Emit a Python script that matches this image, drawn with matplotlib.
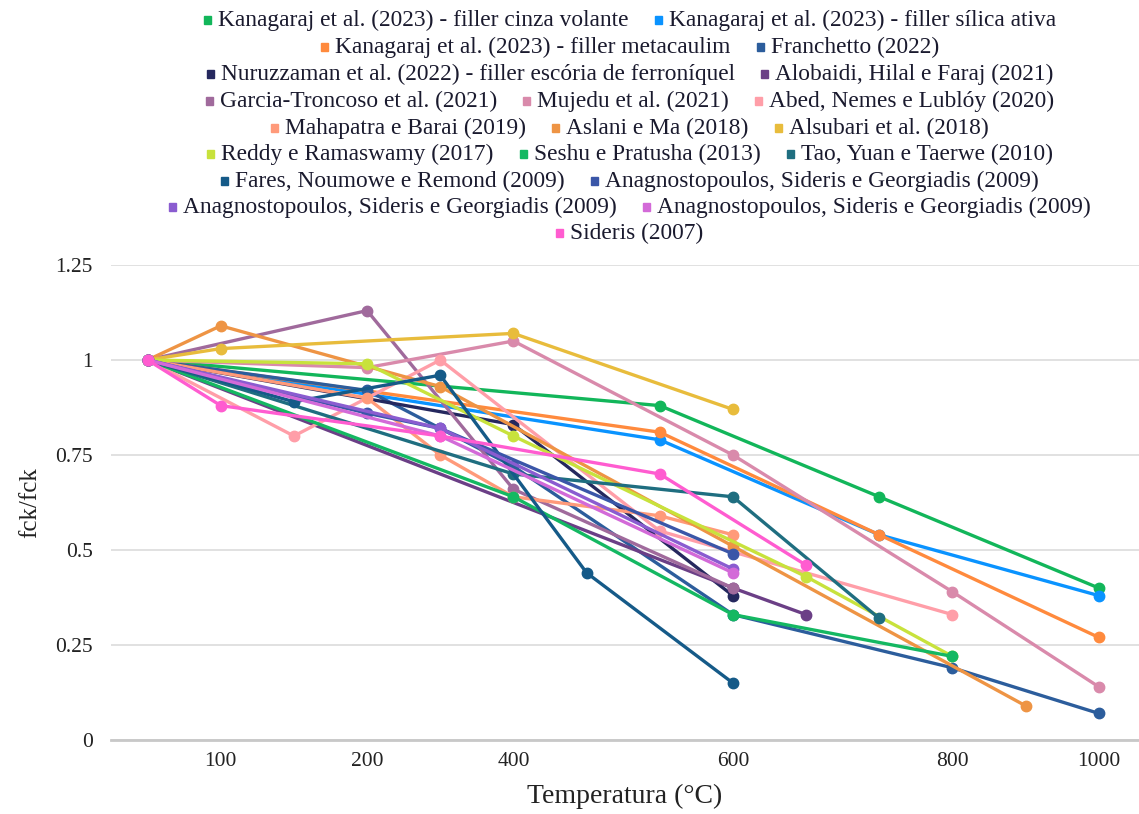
import matplotlib
matplotlib.use('Agg')
import matplotlib.pyplot as plt
from matplotlib.patches import Rectangle

plt.rcParams['font.family'] = ['Liberation Serif', 'DejaVu Serif']

# categorias de temperatura (eixo de categorias, como no Excel)
temps = [20, 100, 150, 200, 300, 400, 450, 500, 600, 650, 700, 800, 900, 1000]
tick_temps = [100, 200, 400, 600, 800, 1000]

names = [
    'Kanagaraj et al. (2023) - filler cinza volante',
    'Kanagaraj et al. (2023) - filler sílica ativa',
    'Kanagaraj et al. (2023) - filler metacaulim',
    'Franchetto (2022)',
    'Nuruzzaman et al. (2022) - filler escória de ferroníquel',
    'Alobaidi, Hilal e Faraj (2021)',
    'Garcia-Troncoso et al. (2021)',
    'Mujedu et al. (2021)',
    'Abed, Nemes e Lublóy (2020)',
    'Mahapatra e Barai (2019)',
    'Aslani e Ma (2018)',
    'Alsubari et al. (2018)',
    'Reddy e Ramaswamy (2017)',
    'Seshu e Pratusha (2013)',
    'Tao, Yuan e Taerwe (2010)',
    'Fares, Noumowe e Remond (2009)',
    'Anagnostopoulos, Sideris e Georgiadis (2009)',
    'Anagnostopoulos, Sideris e Georgiadis (2009)',
    'Anagnostopoulos, Sideris e Georgiadis (2009)',
    'Sideris (2007)',
]
colors = ['#12b65a', '#0a93ff', '#ff8a3d', '#2c5d9c', '#25285e', '#6b3f86',
          '#a06a9c', '#d98aab', '#ff9ea8', '#ff9a7a', '#ee9444', '#e8bc3c',
          '#c8e23c', '#14b862', '#1f6e80', '#155a88', '#3a56a8', '#8a5cd0',
          '#d36ad8', '#ff5cd0']

# temperaturas e fck/fck de cada serie
kan_cinza_t = [20, 500, 700, 1000]
kan_cinza_v = [1.0, 0.88, 0.64, 0.40]
kan_silica_t = [20, 500, 700, 1000]
kan_silica_v = [1.0, 0.79, 0.54, 0.38]
kan_meta_t = [20, 500, 700, 1000]
kan_meta_v = [1.0, 0.81, 0.54, 0.27]
franchetto_t = [20, 200, 400, 600, 800, 1000]
franchetto_v = [1.0, 0.92, 0.72, 0.33, 0.19, 0.07]
nuruzzaman_t = [20, 400, 600]
nuruzzaman_v = [1.0, 0.83, 0.38]
alobaidi_t = [20, 600, 650]
alobaidi_v = [1.0, 0.40, 0.33]
garcia_t = [20, 200, 400, 600]
garcia_v = [1.0, 1.13, 0.66, 0.40]
mujedu_t = [20, 200, 400, 600, 800, 1000]
mujedu_v = [1.0, 0.98, 1.05, 0.75, 0.39, 0.14]
abed_t = [20, 150, 300, 500, 800]
abed_v = [1.0, 0.80, 1.0, 0.55, 0.33]
mahapatra_t = [20, 200, 300, 400, 500, 600]
mahapatra_v = [1.0, 0.90, 0.75, 0.64, 0.59, 0.54]
aslani_t = [20, 100, 300, 600, 900]
aslani_v = [1.0, 1.09, 0.93, 0.51, 0.09]
alsubari_t = [20, 100, 400, 600]
alsubari_v = [1.0, 1.03, 1.07, 0.87]
reddy_t = [20, 200, 400, 650, 800]
reddy_v = [1.0, 0.99, 0.80, 0.43, 0.22]
seshu_t = [20, 400, 600, 800]
seshu_v = [1.0, 0.64, 0.33, 0.22]
tao_t = [20, 400, 600, 700]
tao_v = [1.0, 0.70, 0.64, 0.32]
fares_t = [20, 150, 300, 450, 600]
fares_v = [1.0, 0.89, 0.96, 0.44, 0.15]
anag1_t = [20, 200, 300, 600]
anag1_v = [1.0, 0.86, 0.82, 0.49]
anag2_t = [20, 300, 600]
anag2_v = [1.0, 0.82, 0.45]
anag3_t = [20, 300, 600]
anag3_v = [1.0, 0.80, 0.44]
sideris_t = [20, 100, 300, 500, 650]
sideris_v = [1.0, 0.88, 0.80, 0.70, 0.46]

series = [
    (kan_cinza_t, kan_cinza_v), (kan_silica_t, kan_silica_v), (kan_meta_t, kan_meta_v),
    (franchetto_t, franchetto_v), (nuruzzaman_t, nuruzzaman_v), (alobaidi_t, alobaidi_v),
    (garcia_t, garcia_v), (mujedu_t, mujedu_v), (abed_t, abed_v),
    (mahapatra_t, mahapatra_v), (aslani_t, aslani_v), (alsubari_t, alsubari_v),
    (reddy_t, reddy_v), (seshu_t, seshu_v), (tao_t, tao_v), (fares_t, fares_v),
    (anag1_t, anag1_v), (anag2_t, anag2_v), (anag3_t, anag3_v), (sideris_t, sideris_v),
]

# linhas da legenda (indices das series), como no original
legend_rows = [[0, 1], [2, 3], [4, 5], [6, 7, 8], [9, 10, 11], [12, 13, 14],
               [15, 16], [17, 18], [19]]

W, H = 1139, 814
fig = plt.figure(figsize=(W / 100, H / 100), dpi=100)
ax = fig.add_axes([111 / W, 74 / H, (W - 111) / W, (740 - 265) / H])

for (t, v), c, nm in zip(series, colors, names):
    x = [temps.index(tt) for tt in t]
    ax.plot(x, v, color=c, lw=2.4, marker='o', ms=7.5, mec=c, mfc=c,
            solid_joinstyle='round', label=nm)

ax.set_xlim(-0.5, len(temps) - 0.45)
ax.set_ylim(0, 1.25)
ax.set_yticks([0, 0.25, 0.5, 0.75, 1, 1.25])
ax.set_yticklabels(['0', '0.25', '0.5', '0.75', '1', '1.25'])
ax.set_xticks([temps.index(tt) for tt in tick_temps])
ax.set_xticklabels([str(tt) for tt in tick_temps])
ax.tick_params(length=0, labelsize=15.5, colors='#222222', pad=9)
ax.tick_params(axis='y', pad=13)
ax.grid(axis='y', color='#dedede', lw=1.3)
ax.set_axisbelow(True)
for s in ['top', 'right', 'left']:
    ax.spines[s].set_visible(False)
ax.spines['bottom'].set_color('#c8c8c8')
ax.spines['bottom'].set_linewidth(2)
ax.set_xlabel('Temperatura (°C)', fontsize=20, color='#222222', labelpad=9)
ax.set_ylabel('fck/fck', fontsize=18, color='#222222', labelpad=10)

# legenda centrada, desenhada entrada por entrada
fig.canvas.draw()
rend = fig.canvas.get_renderer()
row_y = [20, 47, 74, 101, 128, 154, 181, 207, 233]
cx = 630
sq, gap, sep = 7, 7, 26
for row, yy in zip(legend_rows, row_y):
    txts = []
    for i in row:
        tx = fig.text(0, 1 - yy / H, names[i], fontsize=16.8, color='#1a1a2e', va='center')
        txts.append(tx)
    widths = [tx.get_window_extent(rend).width for tx in txts]
    total = sum(widths) + len(row) * (sq + gap) + sep * (len(row) - 1)
    x0 = cx - total / 2
    for i, tx, w in zip(row, txts, widths):
        fig.patches.append(Rectangle((x0 / W, (H - yy - sq / 2) / H), sq / W, sq / H,
                                     transform=fig.transFigure, color=colors[i]))
        tx.set_x((x0 + sq + gap) / W)
        x0 += sq + gap + w + sep

fig.savefig('out.png', dpi=100)
